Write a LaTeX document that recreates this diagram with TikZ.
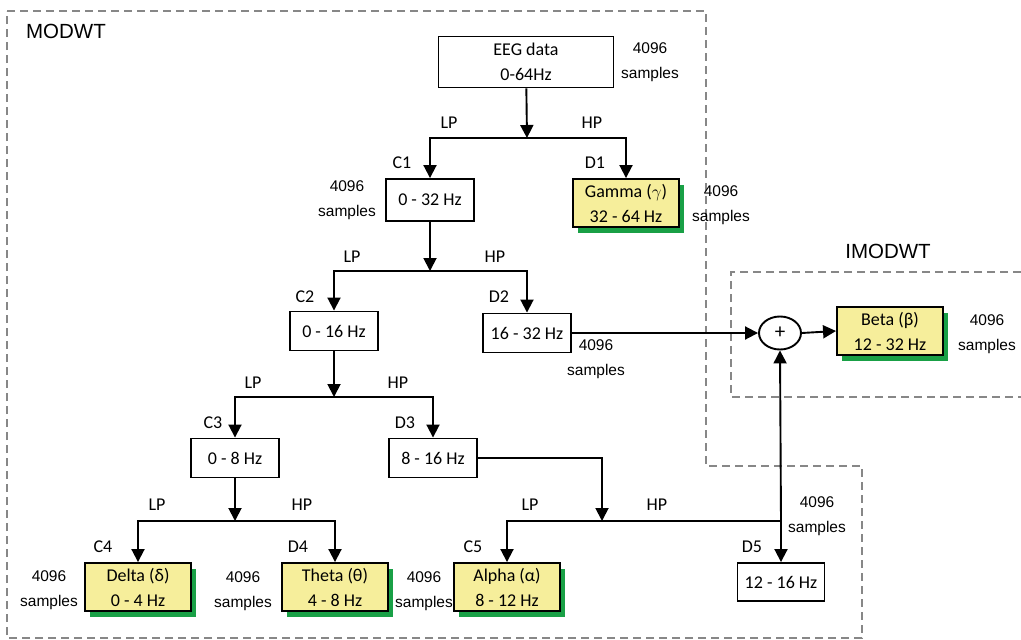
\documentclass[tikz,border=0pt]{standalone}
\usepackage{fontspec}
\setmainfont{Carlito}
\newfontfamily\arialfont{Liberation Sans}
\usetikzlibrary{arrows.meta,shapes.geometric,shadows}
\definecolor{bandyellow}{RGB}{246,238,155}
\definecolor{shadowgreen}{RGB}{25,160,70}
\definecolor{boxgray}{RGB}{135,135,135}
\tikzset{ >={Triangle[width=13pt,length=13pt]} }
\tikzset{
  flow/.style={->, line width=1.9pt},
  band/.style={draw, line width=1.9pt, fill=white, inner sep=0pt, align=center,
    font=\fontsize{18}{25}\selectfont, minimum width=88pt, minimum height=39pt},
  wave/.style={band, fill=bandyellow, minimum width=106pt, minimum height=48pt,
    drop shadow={shadow xshift=5pt, shadow yshift=-6pt, fill=shadowgreen, opacity=1}},
  count/.style={align=center, inner sep=0pt, font=\arialfont\fontsize{15.5}{25}\selectfont},
  tag/.style={inner sep=0pt, font=\fontsize{18}{20}\selectfont},
  region/.style={draw=boxgray, line width=1.5pt, dash pattern=on 8pt off 5pt},
  title/.style={inner sep=0pt, font=\arialfont\fontsize{20.5}{24}\selectfont}
}
\begin{document}
\begin{tikzpicture}[x=1pt,y=-1pt]
    \useasboundingbox (0,0) rectangle (1021,640);
    % Dashed regions
    \draw[region] (7,11) -- (706,11) -- (706,466) -- (862,466) -- (862,638) -- (7,638) -- cycle;
    \draw[region] (1021,272) -- (731,272) -- (731,397) -- (1021,397);
    \node[title] (modwt)  at (66,31)  {MODWT};
    \node[title] (imodwt) at (888,251) {IMODWT};
    % Decomposition boxes
    \node[band, minimum width=175pt, minimum height=51pt] (eeg) at (526,62) {EEG data\\0-64Hz};
    \node[band, minimum height=42pt] (c1) at (430,200) {0 - 32 Hz};
    \node[wave] (d1) at (626,203) {Gamma ($\gamma$)\\32 - 64 Hz};
    \node[band] (c2) at (334,331) {0 - 16 Hz};
    \node[band] (d2) at (527,333) {16 - 32 Hz};
    \node[band] (c3) at (235,458) {0 - 8 Hz};
    \node[band] (d3) at (433,458) {8 - 16 Hz};
    \node[wave] (c4) at (138,587) {Delta (δ)\\0 - 4 Hz};
    \node[wave] (d4) at (335,587) {Theta (θ)\\4 - 8 Hz};
    \node[wave] (c5) at (507,587) {Alpha (α)\\8 - 12 Hz};
    \node[band, minimum width=87pt, minimum height=38pt] (d5) at (781,582) {12 - 16 Hz};
    % Reconstruction
    \node[draw, ellipse, line width=1.9pt, minimum width=42pt, minimum height=33pt,
          inner sep=0pt, font=\fontsize{21}{22}\selectfont] (sum) at (780,333) {+};
    \node[wave] (beta) at (890,331) {Beta (β)\\12 - 32 Hz};
    % Junctions
    \coordinate (j1) at (527,138);
    \coordinate (j2) at (430,271);
    \coordinate (j3) at (334,397);
    \coordinate (j4) at (235,521);
    \coordinate (j5) at (602,521);
    \coordinate (j6) at (781,521);
    % Filter bank connectors
    \draw[flow] (eeg) -- (j1);
    \draw[flow] (j1) -| (c1.north);
    \draw[flow] (j1) -| (d1.north);
    \draw[flow] (c1) -- (j2);
    \draw[flow] (j2) -| (c2.north);
    \draw[flow] (j2) -| (d2.north);
    \draw[flow] (c2) -- (j3);
    \draw[flow] (j3) -| (c3.north);
    \draw[flow] (j3) -| (d3.north);
    \draw[flow] (c3) -- (j4);
    \draw[flow] (j4) -| (c4.north);
    \draw[flow] (j4) -| (d4.north);
    \draw[flow] (d3.east) -| (j5);
    \draw[flow] (j5) -| (c5.north);
    \draw[flow] (j5) -| (d5.north);
    \draw[flow] (j6) -- (sum.south);
    \draw[flow] (d2.east) -- (sum.west);
    \draw[flow] (sum.east) -- (beta.west);
    % Filter labels
    \foreach \name/\txt/\x/\y in {lp1/LP/449/123, hp1/HP/592/123, lp2/LP/352/257, hp2/HP/495/257,
        lp3/LP/253/383, hp3/HP/398/383, lp4/LP/157/505, hp4/HP/302/505, lp5/LP/530/505, hp5/HP/657/505,
        tc1/C1/402/163, td1/D1/595/163, tc2/C2/305/297, td2/D2/499/297, tc3/C3/213/423, td3/D3/405/423,
        tc4/C4/103/547, td4/D4/298/547, tc5/C5/473/547, td5/D5/752/547}
        { \node[tag] (\name) at (\x,\y) {\txt}; }
    % Sample counts
    \foreach \name/\x/\y in {neeg/650/62, nc1/347/200, nd1/721/205, nd2/596/359, nbeta/987/334,
        nc4/49/590, nd4/243/591, nc5/424/591, nd5/817/516}
        { \node[count] (\name) at (\x,\y) {4096\\samples}; }
\end{tikzpicture}
\end{document}
